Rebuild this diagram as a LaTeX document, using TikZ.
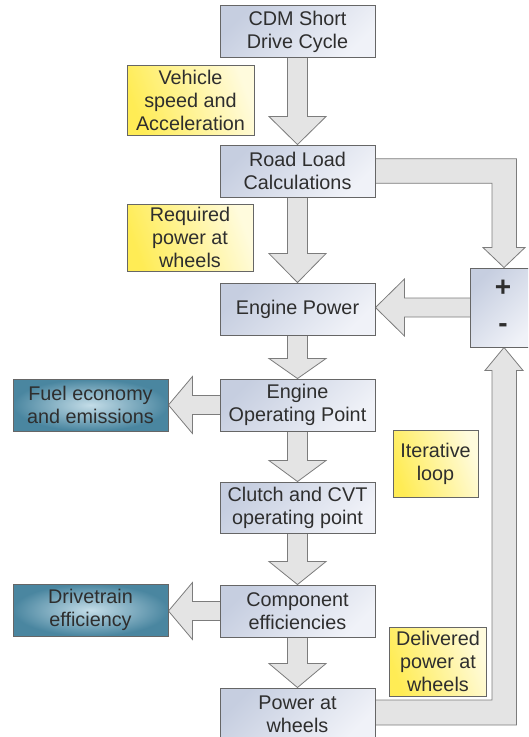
\documentclass[tikz,border=0pt]{standalone}
\usepackage{fontspec}
\setmainfont{Liberation Sans}
\usetikzlibrary{calc,backgrounds}
\definecolor{boxdark}{HTML}{C6CEE0}
\definecolor{boxlight}{HTML}{F0F2F8}
\definecolor{yel}{HTML}{FFEC55}
\definecolor{yellight}{HTML}{FFFBDD}
\definecolor{tealout}{HTML}{4A86A0}
\definecolor{tealin}{HTML}{C4DDE8}
\definecolor{arrfill}{HTML}{E4E4E4}
\definecolor{arrline}{HTML}{7C7C7C}
\definecolor{txt}{HTML}{2E2E2E}
\tikzset{
  base/.style={rectangle, draw=black!60, line width=0.9pt, align=center, inner sep=0pt,
    text=txt, font=\fontsize{19.8}{23}\selectfont},
  stepbox/.style={base, minimum width=155pt, minimum height=52pt,
    shading=axis, top color=boxlight, bottom color=boxdark, shading angle=225},
  notebox/.style={base, shading=axis, left color=yel, right color=yellight, shading angle=110},
  outbox/.style={base, minimum width=155pt, minimum height=52pt,
    inner color=tealin, outer color=tealout},
  barrow/.style={fill=arrfill, draw=arrline, line width=0.8pt, line join=miter},
  sign/.style={inner sep=0pt, text=txt, font=\fontsize{28}{28}\bfseries\selectfont}
}
\newcommand\dnarrow[3]{%
  \path[barrow] let \p1=(#1.south), \p2=(#2.north) in
   (\x1-10pt,\y1+2pt) -- (\x1-10pt,\y2+#3pt) -- (\x1-28.5pt,\y2+#3pt) -- (\x1,\y2)
   -- (\x1+28.5pt,\y2+#3pt) -- (\x1+10pt,\y2+#3pt) -- (\x1+10pt,\y1+2pt);}
\newcommand\ltarrow[3]{%
  \path[barrow] let \p1=(#1.west), \p2=(#2.east) in
   (\x1+2pt,\y1+9.5pt) -- (\x2+#3pt,\y1+9.5pt) -- (\x2+#3pt,\y1+28.5pt) -- (\x2,\y1)
   -- (\x2+#3pt,\y1-28.5pt) -- (\x2+#3pt,\y1-9.5pt) -- (\x1+2pt,\y1-9.5pt);}
\begin{document}
\begin{tikzpicture}[x=1pt,y=-1pt]
\useasboundingbox (0,0) rectangle (528,737);
\clip (0,0) rectangle (528,737);
% main column
\node[stepbox] (cdm) at (297.5,31.5) {CDM Short\\Drive Cycle};
\node[stepbox] (rl) at (297.5,171) {Road Load\\Calculations};
\node[stepbox] (ep) at (297.5,309) {Engine Power};
\node[stepbox] (eop) at (297.5,405) {Engine\\Operating Point};
\node[stepbox, minimum height=51pt] (cvt) at (297.5,507.5) {Clutch and CVT\\operating point};
\node[stepbox] (ce) at (297.5,611) {Component\\efficiencies};
\node[stepbox] (pw) at (297.5,714) {Power at\\wheels};
% notes
\node[notebox, minimum width=127pt, minimum height=70pt] (n1) at (190.5,100) {Vehicle\\speed and\\Acceleration};
\node[notebox, minimum width=126pt, minimum height=67pt] (n2) at (190,237.5) {Required\\power at\\wheels};
\node[notebox, minimum width=85pt, minimum height=67pt] (n3) at (435.5,464) {Iterative\\loop};
\node[notebox, minimum width=97pt, minimum height=69pt] (n4) at (438,661.5) {Delivered\\power at\\wheels};
% outputs
\node[outbox] (fuel) at (90.5,405) {Fuel economy\\and emissions};
\node[outbox] (dt) at (90.5,610) {Drivetrain\\efficiency};
% summing box
\node[stepbox, minimum width=64pt, minimum height=79pt] (pm) at (502,307.5) {};
\node[sign] (plus) at (503,288) {+};
\node[sign] (minus) at (503,328) {-};
\begin{scope}[on background layer]
\dnarrow{cdm}{rl}{28}
\dnarrow{rl}{ep}{29}
\dnarrow{ep}{eop}{20}
\dnarrow{eop}{cvt}{21}
\dnarrow{cvt}{ce}{23}
\dnarrow{ce}{pw}{24}
\ltarrow{eop}{fuel}{24}
\ltarrow{ce}{dt}{24}
\ltarrow{pm}{ep}{29}
% top loop: road load -> summing box
\path[barrow] let \p1=(rl.east), \p2=($(pm.north)+(2,0)$) in
  (\x1-2pt,\y1+12.25pt) -- (\x2+12.5pt,\y1+12.25pt) -- (\x2+12.5pt,\y2+20pt)
  -- (\x2+21pt,\y2+20pt) -- (\x2,\y2) -- (\x2-21pt,\y2+20pt) -- (\x2-12pt,\y2+20pt)
  -- (\x2-12pt,\y1-12.25pt) -- (\x1-2pt,\y1-12.25pt);
% bottom loop: power at wheels -> summing box
\path[barrow] let \p1=(pw.east), \p2=($(pm.south)+(2,0)$) in
  (\x1-2pt,\y1+14pt) -- (\x2-12pt,\y1+14pt) -- (\x2-12pt,\y2-23pt)
  -- (\x2-19pt,\y2-23pt) -- (\x2,\y2) -- (\x2+19pt,\y2-23pt) -- (\x2+12.5pt,\y2-23pt)
  -- (\x2+12.5pt,\y1-11pt) -- (\x1-2pt,\y1-11pt);
\end{scope}
\end{tikzpicture}
\end{document}
